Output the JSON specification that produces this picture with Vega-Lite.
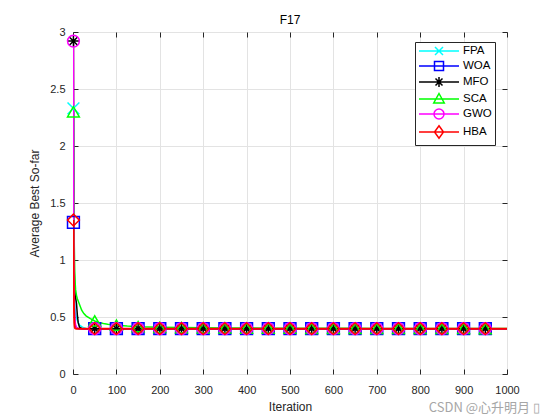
{
  "$schema": "https://vega.github.io/schema/vega-lite/v6.json",
  "width": 434,
  "height": 342,
  "autosize": {"type": "none"},
  "padding": {"left": 73, "top": 32, "right": 53, "bottom": 46},
  "background": "white",
  "title": {"text": "F17", "font": "Liberation Sans", "fontSize": 12, "fontWeight": "normal", "color": "#000000", "anchor": "middle", "offset": -1},
  "config": {
    "view": {"stroke": "#262626", "strokeWidth": 1},
    "axis": {
      "labelFont": "Liberation Sans",
      "labelFontSize": 11,
      "labelColor": "#262626",
      "titleFont": "Liberation Sans",
      "titleFontSize": 12,
      "titleFontWeight": "normal",
      "titleColor": "#262626",
      "domainColor": "#262626",
      "tickColor": "#262626",
      "gridColor": "#e3e3e3",
      "gridOpacity": 1
    },
    "point": {"filled": false, "size": 140, "strokeWidth": 1.5, "opacity": 1},
    "legend": {
      "title": null,
      "orient": "none",
      "legendX": 342,
      "legendY": 10,
      "fillColor": "white",
      "strokeColor": "#262626",
      "padding": 3,
      "symbolSize": 100,
      "symbolStrokeWidth": 1.5,
      "symbolOffset": 15,
      "labelOffset": 18,
      "rowPadding": 0,
      "labelFont": "Liberation Sans",
      "labelFontSize": 11.5,
      "labelColor": "#000000"
    }
  },
  "data": {
    "values": [
      {"iter": 1, "FPA": 2.33, "WOA": 1.33, "MFO": 2.92, "SCA": 2.30, "GWO": 2.92, "HBA": 1.35},
      {"iter": 2, "FPA": 1.10, "WOA": 0.78, "MFO": 1.30, "SCA": 1.60, "GWO": 1.05, "HBA": 0.62},
      {"iter": 3, "FPA": 0.76, "WOA": 0.55, "MFO": 0.88, "SCA": 1.12, "GWO": 0.64, "HBA": 0.45},
      {"iter": 4, "FPA": 0.63, "WOA": 0.47, "MFO": 0.74, "SCA": 0.90, "GWO": 0.51, "HBA": 0.41},
      {"iter": 5, "FPA": 0.57, "WOA": 0.44, "MFO": 0.69, "SCA": 0.80, "GWO": 0.46, "HBA": 0.400},
      {"iter": 6, "FPA": 0.53, "WOA": 0.42, "MFO": 0.67, "SCA": 0.74, "GWO": 0.43, "HBA": 0.398},
      {"iter": 8, "FPA": 0.49, "WOA": 0.405, "MFO": 0.62, "SCA": 0.69, "GWO": 0.41, "HBA": 0.3979},
      {"iter": 10, "FPA": 0.47, "WOA": 0.400, "MFO": 0.52, "SCA": 0.66, "GWO": 0.400, "HBA": 0.3979},
      {"iter": 12, "FPA": 0.45, "WOA": 0.399, "MFO": 0.45, "SCA": 0.64, "GWO": 0.399, "HBA": 0.3979},
      {"iter": 15, "FPA": 0.43, "WOA": 0.398, "MFO": 0.41, "SCA": 0.61, "GWO": 0.398, "HBA": 0.3979},
      {"iter": 20, "FPA": 0.415, "WOA": 0.3979, "MFO": 0.399, "SCA": 0.56, "GWO": 0.3979, "HBA": 0.3979},
      {"iter": 25, "FPA": 0.405, "WOA": 0.3979, "MFO": 0.3979, "SCA": 0.53, "GWO": 0.3979, "HBA": 0.3979},
      {"iter": 30, "FPA": 0.400, "WOA": 0.3979, "MFO": 0.3979, "SCA": 0.51, "GWO": 0.3979, "HBA": 0.3979},
      {"iter": 40, "FPA": 0.398, "WOA": 0.3979, "MFO": 0.3979, "SCA": 0.485, "GWO": 0.3979, "HBA": 0.3979},
      {"iter": 50, "FPA": 0.3979, "WOA": 0.3979, "MFO": 0.3979, "SCA": 0.465, "GWO": 0.3979, "HBA": 0.3979},
      {"iter": 60, "FPA": 0.3979, "WOA": 0.3979, "MFO": 0.3979, "SCA": 0.452, "GWO": 0.3979, "HBA": 0.3979},
      {"iter": 70, "FPA": 0.3979, "WOA": 0.3979, "MFO": 0.3979, "SCA": 0.443, "GWO": 0.3979, "HBA": 0.3979},
      {"iter": 80, "FPA": 0.3979, "WOA": 0.3979, "MFO": 0.3979, "SCA": 0.437, "GWO": 0.3979, "HBA": 0.3979},
      {"iter": 100, "FPA": 0.3979, "WOA": 0.3979, "MFO": 0.3979, "SCA": 0.428, "GWO": 0.3979, "HBA": 0.3979},
      {"iter": 125, "FPA": 0.3979, "WOA": 0.3979, "MFO": 0.3979, "SCA": 0.420, "GWO": 0.3979, "HBA": 0.3979},
      {"iter": 150, "FPA": 0.3979, "WOA": 0.3979, "MFO": 0.3979, "SCA": 0.415, "GWO": 0.3979, "HBA": 0.3979},
      {"iter": 200, "FPA": 0.3979, "WOA": 0.3979, "MFO": 0.3979, "SCA": 0.410, "GWO": 0.3979, "HBA": 0.3979},
      {"iter": 250, "FPA": 0.3979, "WOA": 0.3979, "MFO": 0.3979, "SCA": 0.407, "GWO": 0.3979, "HBA": 0.3979},
      {"iter": 300, "FPA": 0.3979, "WOA": 0.3979, "MFO": 0.3979, "SCA": 0.405, "GWO": 0.3979, "HBA": 0.3979},
      {"iter": 350, "FPA": 0.3979, "WOA": 0.3979, "MFO": 0.3979, "SCA": 0.404, "GWO": 0.3979, "HBA": 0.3979},
      {"iter": 400, "FPA": 0.3979, "WOA": 0.3979, "MFO": 0.3979, "SCA": 0.403, "GWO": 0.3979, "HBA": 0.3979},
      {"iter": 450, "FPA": 0.3979, "WOA": 0.3979, "MFO": 0.3979, "SCA": 0.402, "GWO": 0.3979, "HBA": 0.3979},
      {"iter": 500, "FPA": 0.3979, "WOA": 0.3979, "MFO": 0.3979, "SCA": 0.402, "GWO": 0.3979, "HBA": 0.3979},
      {"iter": 550, "FPA": 0.3979, "WOA": 0.3979, "MFO": 0.3979, "SCA": 0.401, "GWO": 0.3979, "HBA": 0.3979},
      {"iter": 600, "FPA": 0.3979, "WOA": 0.3979, "MFO": 0.3979, "SCA": 0.401, "GWO": 0.3979, "HBA": 0.3979},
      {"iter": 650, "FPA": 0.3979, "WOA": 0.3979, "MFO": 0.3979, "SCA": 0.401, "GWO": 0.3979, "HBA": 0.3979},
      {"iter": 700, "FPA": 0.3979, "WOA": 0.3979, "MFO": 0.3979, "SCA": 0.400, "GWO": 0.3979, "HBA": 0.3979},
      {"iter": 750, "FPA": 0.3979, "WOA": 0.3979, "MFO": 0.3979, "SCA": 0.400, "GWO": 0.3979, "HBA": 0.3979},
      {"iter": 800, "FPA": 0.3979, "WOA": 0.3979, "MFO": 0.3979, "SCA": 0.400, "GWO": 0.3979, "HBA": 0.3979},
      {"iter": 850, "FPA": 0.3979, "WOA": 0.3979, "MFO": 0.3979, "SCA": 0.400, "GWO": 0.3979, "HBA": 0.3979},
      {"iter": 900, "FPA": 0.3979, "WOA": 0.3979, "MFO": 0.3979, "SCA": 0.400, "GWO": 0.3979, "HBA": 0.3979},
      {"iter": 950, "FPA": 0.3979, "WOA": 0.3979, "MFO": 0.3979, "SCA": 0.399, "GWO": 0.3979, "HBA": 0.3979},
      {"iter": 1000, "FPA": 0.3979, "WOA": 0.3979, "MFO": 0.3979, "SCA": 0.399, "GWO": 0.3979, "HBA": 0.3979}
    ]
  },
  "resolve": {"axis": {"x": "independent", "y": "independent"}},
  "layer": [
    {
      "transform": [{"fold": ["FPA", "WOA", "MFO", "SCA", "GWO", "HBA"], "as": ["algo", "value"]}],
      "resolve": {"axis": {"x": "independent", "y": "independent"}},
      "encoding": {
        "x": {"field": "iter", "type": "quantitative", "scale": {"domain": [0, 1000], "nice": false}, "axis": null},
        "y": {"field": "value", "type": "quantitative", "scale": {"domain": [0, 3], "nice": false, "zero": false}, "axis": null},
        "color": {
          "field": "algo", "type": "nominal",
          "scale": {"domain": ["FPA", "WOA", "MFO", "SCA", "GWO", "HBA"], "range": ["#00ffff", "#0000ff", "#000000", "#00ff00", "#ff00ff", "#ff0000"]}
        }
      },
      "layer": [
        {
          "mark": {"type": "line", "clip": true},
          "encoding": {
            "x": {
              "field": "iter", "type": "quantitative",
              "axis": {"title": "Iteration", "format": "d", "values": [0, 100, 200, 300, 400, 500, 600, 700, 800, 900, 1000], "tickSize": -5, "labelPadding": 15, "titlePadding": 6, "domain": false, "labelFlush": false}
            },
            "y": {
              "field": "value", "type": "quantitative",
              "axis": {"title": "Average Best So-far", "format": "~g", "values": [0, 0.5, 1, 1.5, 2, 2.5, 3], "tickSize": -5, "labelPadding": 13, "titlePadding": 8, "domain": false, "labelFlush": false}
            },
            "color": {
              "field": "algo", "type": "nominal",
              "legend": {
                "encode": {
                  "symbols": {
                    "update": {
                      "fill": {"value": "transparent"},
                      "shape": {"signal": "datum.value === 'FPA' ? 'M-4,0L4,0M-0.8,-0.8L0.8,0.8M-0.8,0.8L0.8,-0.8' : datum.value === 'WOA' ? 'M-4,0L4,0M-0.9,-0.9H0.9V0.9H-0.9Z' : datum.value === 'MFO' ? 'M-4,0L4,0M0,-1V1M-0.7,-0.7L0.7,0.7M-0.7,0.7L0.7,-0.7' : datum.value === 'SCA' ? 'M-4,0L4,0M0,-1.1L1.05,0.8L-1.05,0.8Z' : datum.value === 'GWO' ? 'M-4,0L4,0M1,0A1,1,0,1,1,-1,0A1,1,0,1,1,1,0Z' : 'M-4,0L4,0M0,-1.25L0.9,0L0,1.25L-0.9,0Z'"}
                    }
                  }
                }
              }
            },
            "strokeWidth": {"condition": {"test": "datum.algo === 'HBA'", "value": 2}, "value": 1.5}
          }
        },
        {
          "transform": [{"filter": "datum.algo === 'FPA' && (datum.iter == 1 || (datum.iter % 50 == 0 && datum.iter < 1000))"}],
          "mark": {"type": "point", "shape": "M-1,-1L1,1M-1,1L1,-1"},
          "encoding": {
            "x": {
              "field": "iter", "type": "quantitative",
              "axis": {"orient": "top", "title": null, "labels": false, "grid": false, "domain": false, "values": [0, 100, 200, 300, 400, 500, 600, 700, 800, 900, 1000], "tickSize": -5}
            },
            "y": {
              "field": "value", "type": "quantitative",
              "axis": {"orient": "right", "title": null, "labels": false, "grid": false, "domain": false, "values": [0, 0.5, 1, 1.5, 2, 2.5, 3], "tickSize": -5}
            }
          }
        },
        {
          "transform": [{"filter": "datum.algo === 'WOA' && (datum.iter == 1 || (datum.iter % 50 == 0 && datum.iter < 1000))"}],
          "mark": {"type": "point", "shape": "square"}
        },
        {
          "transform": [{"filter": "datum.algo === 'MFO' && (datum.iter == 1 || (datum.iter % 50 == 0 && datum.iter < 1000))"}],
          "mark": {"type": "point", "shape": "M-1,0H1M0,-1V1M-0.7,-0.7L0.7,0.7M-0.7,0.7L0.7,-0.7"}
        },
        {
          "transform": [{"filter": "datum.algo === 'SCA' && (datum.iter == 1 || (datum.iter % 50 == 0 && datum.iter < 1000))"}],
          "mark": {"type": "point", "shape": "triangle-up"}
        },
        {
          "transform": [{"filter": "datum.algo === 'GWO' && (datum.iter == 1 || (datum.iter % 50 == 0 && datum.iter < 1000))"}],
          "mark": {"type": "point", "shape": "circle"}
        },
        {
          "transform": [{"filter": "datum.algo === 'HBA' && (datum.iter == 1 || (datum.iter % 50 == 0 && datum.iter < 1000))"}],
          "mark": {"type": "point", "shape": "diamond"}
        }
      ]
    },
    {
      "data": {"values": [{"note": "CSDN @心升明月 ▯"}]},
      "mark": {"type": "text", "align": "right", "baseline": "middle", "font": "Noto Sans CJK SC", "fontSize": 13, "color": "#a6a6a6"},
      "encoding": {
        "x": {"datum": 1076, "type": "quantitative", "axis": null},
        "y": {"datum": -0.295, "type": "quantitative", "axis": null},
        "text": {"field": "note", "type": "nominal"}
      }
    }
  ]
}
